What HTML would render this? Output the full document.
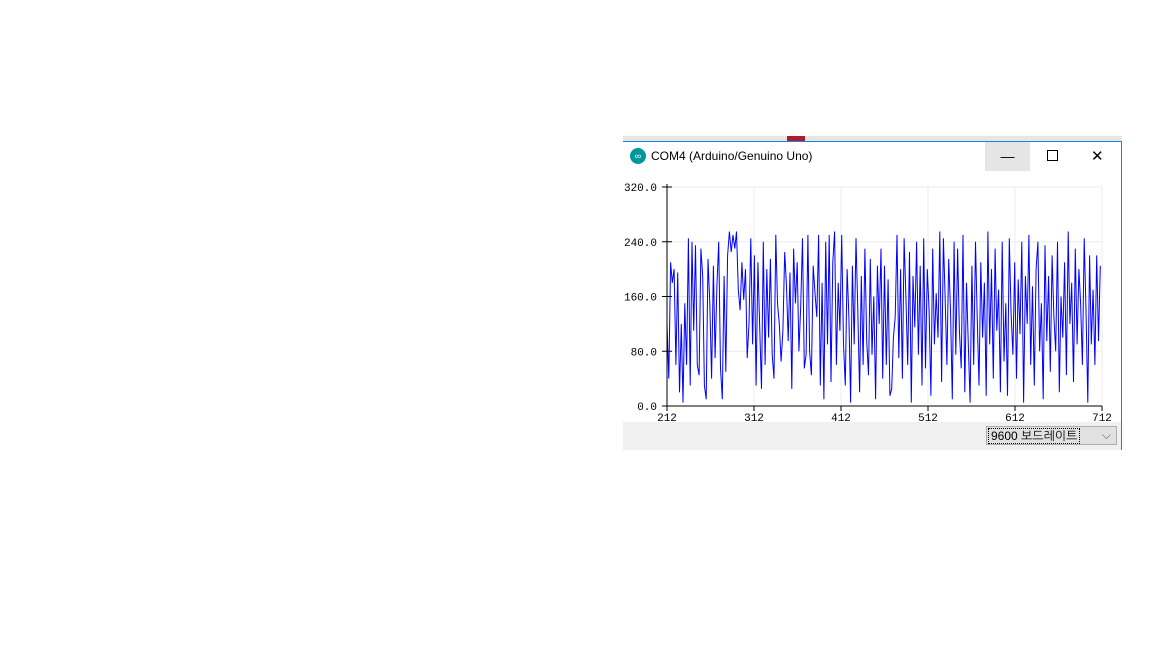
<!DOCTYPE html>
<html><head><meta charset="utf-8"><style>
body{margin:0;width:1152px;height:648px;background:#fff;overflow:hidden;position:relative;font-family:"Liberation Sans","NanumGothic",sans-serif}
.abs{position:absolute}
</style></head><body>
<div class="abs" style="left:623px;top:136px;width:499px;height:5px;background:#e6e6e6"></div>
<div class="abs" style="left:787px;top:136px;width:18px;height:5px;background:#b01c2e"></div>
<div class="abs" style="left:623px;top:141px;width:499px;height:309px;background:#fff;box-shadow:inset -1px 1px 0 #1883d7"></div>
<div class="abs" style="left:630px;top:148px;width:16px;height:16px;border-radius:50%;background:#00979c;color:#fff;font-size:9px;line-height:16px;text-align:center">∞</div>
<div class="abs" style="left:651px;top:149px;font-size:12px;color:#000">COM4 (Arduino/Genuino Uno)</div>
<div class="abs" style="left:985px;top:142px;width:45px;height:29px;background:#e5e5e5;text-align:center;line-height:28px;font-size:14px">&#8212;</div>
<div class="abs" style="left:1047px;top:150px;width:9px;height:9px;border:1px solid #000"></div>
<div class="abs" style="left:1091px;top:147px;font-size:15px;font-weight:300">✕</div>
<svg class="abs" style="left:0;top:0" width="1152" height="648" id="svg"></svg>
<div class="abs" style="left:623px;top:422px;width:498px;height:28px;background:#f0f0f0"></div>
<div class="abs" style="left:986px;top:426px;width:131px;height:19px;border:1px solid #adadad;background:#e1e1e1;font-size:12px;line-height:18px;box-sizing:border-box">
<span style="border:1px dotted #000;padding:0 2px;margin-left:1px">9600 보드레이트</span><span style="position:absolute;right:5px;top:-1px;color:#666">⌵</span></div>
<script>
const xTicks=[212,312,412,512,612,712];
const yTicks=[0,80,160,240,320];
const xStart=212, xEnd=712;
const values=[120,40,210,180,200,60,195,20,120,5,150,60,245,30,240,110,235,60,45,230,190,30,10,215,150,40,205,70,175,240,55,10,190,50,220,255,225,250,230,255,170,140,210,155,200,70,120,245,90,220,30,210,115,25,240,60,200,100,215,75,40,250,150,120,65,110,225,175,95,195,25,230,150,210,80,145,245,55,75,250,80,45,205,165,130,250,30,180,10,240,90,250,35,210,255,60,180,110,250,90,30,200,130,5,205,90,245,140,20,190,60,230,95,45,215,75,160,10,205,120,230,40,205,60,185,15,25,100,130,250,70,200,40,245,160,60,225,5,190,115,240,75,205,30,245,55,200,140,15,230,90,165,100,255,35,245,160,60,215,140,10,240,75,230,110,55,250,20,180,90,5,205,60,240,130,30,210,100,180,15,255,90,200,40,230,110,170,20,240,65,150,15,245,135,75,210,40,185,105,240,5,190,120,250,60,175,30,200,240,80,150,10,235,95,190,50,220,130,80,240,20,160,100,210,45,255,120,180,35,230,90,200,150,60,245,140,5,220,90,170,60,220,95,205];
const X0=667,X1=1102,Y0=406,Y1=187;
const sx=v=>X0+(v-212)/(712-212)*(X1-X0);
const sy=v=>Y0-v/320*(Y0-Y1);
const svg=document.getElementById('svg');
const NS='http://www.w3.org/2000/svg';
function mk(t,a){const e=document.createElementNS(NS,t);for(const k in a)e.setAttribute(k,a[k]);svg.appendChild(e);return e;}
xTicks.forEach(t=>{if(t>212){const g=mk('line',{x1:sx(t),x2:sx(t),y1:Y1,y2:Y0,stroke:'#ececec'});

}
const tk=mk('line',{x1:sx(t),x2:sx(t),y1:Y0,y2:Y0+5,stroke:'#000'});


const lb=mk('text',{x:sx(t),y:Y0+15,'text-anchor':'middle','font-size':11,'font-family':'Liberation Mono, monospace'});lb.textContent=t;

});
yTicks.forEach(t=>{if(t>0){const g=mk('line',{x1:X0,x2:X1,y1:sy(t),y2:sy(t),stroke:'#ececec'});

}
const tk=mk('line',{x1:X0-5,x2:X0+5,y1:sy(t),y2:sy(t),stroke:'#000'});


const lb=mk('text',{x:X0-10,y:sy(t)+4,'text-anchor':'end','font-size':11,'font-family':'Liberation Mono, monospace'});lb.textContent=t.toFixed(1);

});
mk('line',{x1:X1,x2:X1,y1:Y1,y2:Y0,stroke:'#ececec'});
const xStep=(xEnd-xStart-2)/(values.length-1);
let d=values.map((v,i)=>(i?'L':'M')+sx(xStart+i*xStep).toFixed(1)+','+sy(v).toFixed(1)).join('');
const p=mk('path',{d:d,fill:'none',stroke:'#0000ff','stroke-width':1});


const ax=mk('line',{x1:X0,x2:X0,y1:Y1-3,y2:Y0,stroke:'#000'});


const ay=mk('line',{x1:X0,x2:X1,y1:Y0,y2:Y0,stroke:'#000'});


</script>
</body></html>
